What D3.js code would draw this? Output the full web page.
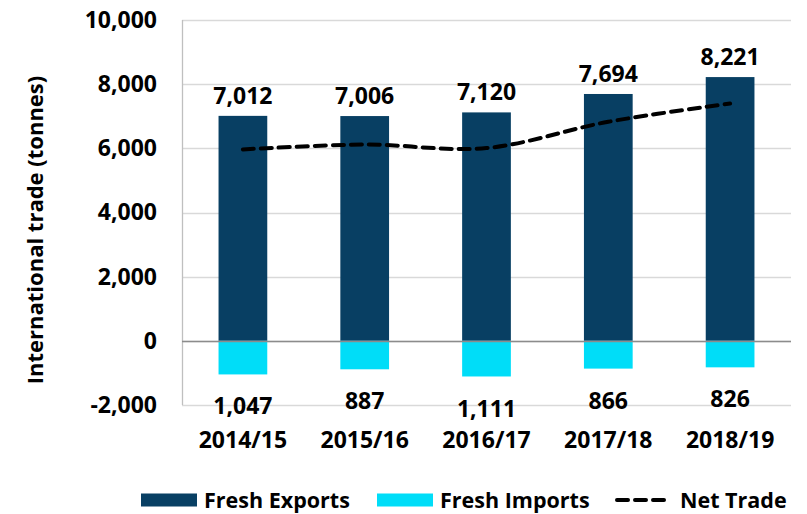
<!DOCTYPE html>
<html>
<head>
<meta charset="utf-8">
<script src="https://cdn.jsdelivr.net/npm/d3@7"></script>
<style>
  body { margin: 0; background: #fff; }
  text { font-family: "Open Sans", sans-serif; font-weight: bold; fill: #000; }
</style>
</head>
<body>
<div id="chart"></div>
<script>
// data
const years = ["2014/15", "2015/16", "2016/17", "2017/18", "2018/19"];
const exportsT = [7012, 7006, 7120, 7694, 8221];
const importsT = [1047, 887, 1111, 866, 826];
const netTrade = [5965, 6119, 6009, 6828, 7395];
const yTicks = [-2000, 0, 2000, 4000, 6000, 8000, 10000];

const W = 807, H = 514;
const margin = { top: 20, right: 16, bottom: 109, left: 182 },
    width = W - margin.left - margin.right,
    height = H - margin.top - margin.bottom;

// comma format with a plain hyphen for negatives
const fmt = d => d3.format(",")(d).replace("\u2212", "-");

const svg = d3.select("#chart")
    .append("svg")
    .attr("width", W)
    .attr("height", H);

const g = svg.append("g")
    .attr("transform", "translate(" + margin.left + "," + margin.top + ")");

const x = d3.scaleBand()
    .domain(years)
    .range([0, width])
    .paddingInner(0.6)
    .paddingOuter(0.3);

const y = d3.scaleLinear()
    .domain([-2000, 10000])
    .range([height, 0]);

// gridlines
g.append("g")
    .selectAll("line")
    .data(yTicks)
    .enter().append("line")
    .attr("x1", 0)
    .attr("x2", width)
    .attr("y1", d => Math.round(y(d)) + 0.5)
    .attr("y2", d => Math.round(y(d)) + 0.5)
    .style("stroke", "#d9d9d9")
    .style("stroke-width", 1.3);

// y axis labels
const yAxis = g.append("g")
    .call(d3.axisLeft(y).tickValues(yTicks).tickSize(0).tickPadding(25).tickFormat(fmt));
yAxis.select(".domain").remove();
yAxis.selectAll("text")
    .style("font-size", "23px")
    .style("font-family", "'Open Sans', sans-serif")
    .style("font-weight", "bold");

// left axis line
g.append("line")
    .attr("x1", 0.5).attr("x2", 0.5)
    .attr("y1", 0).attr("y2", height)
    .style("stroke", "#bfbfbf")
    .style("stroke-width", 1.3);

// exports bars
g.append("g")
    .selectAll("rect")
    .data(exportsT)
    .enter().append("rect")
    .attr("x", (d, i) => x(years[i]))
    .attr("width", x.bandwidth())
    .attr("y", d => y(d))
    .attr("height", d => y(0) - y(d))
    .style("fill", "#083f63");

// imports bars
g.append("g")
    .selectAll("rect")
    .data(importsT)
    .enter().append("rect")
    .attr("x", (d, i) => x(years[i]))
    .attr("width", x.bandwidth())
    .attr("y", y(0))
    .attr("height", d => y(-d) - y(0))
    .style("fill", "#00ddf8");

// zero line
g.append("line")
    .attr("x1", 0).attr("x2", width)
    .attr("y1", Math.round(y(0)) + 0.5)
    .attr("y2", Math.round(y(0)) + 0.5)
    .style("stroke", "#8c8c8c")
    .style("stroke-width", 1.5);

// net trade line
const line = d3.line()
    .x((d, i) => x(years[i]) + x.bandwidth() / 2)
    .y(d => y(d))
    .curve(d3.curveCatmullRom.alpha(0.5));

g.append("path")
    .datum(netTrade)
    .attr("d", line)
    .style("fill", "none")
    .style("stroke", "#000")
    .style("stroke-width", 4)
    .style("stroke-dasharray", "11,7")
    .style("stroke-linecap", "round");

// export labels
g.append("g")
    .selectAll("text")
    .data(exportsT)
    .enter().append("text")
    .attr("x", (d, i) => x(years[i]) + x.bandwidth() / 2)
    .attr("y", d => y(d) - 12)
    .attr("text-anchor", "middle")
    .style("font-size", "23px")
    .text(fmt);

// import labels
g.append("g")
    .selectAll("text")
    .data(importsT)
    .enter().append("text")
    .attr("x", (d, i) => x(years[i]) + x.bandwidth() / 2)
    .attr("y", d => y(-d) + 32)
    .attr("dy", "0.35em")
    .attr("text-anchor", "middle")
    .style("font-size", "23px")
    .text(fmt);

// category labels
g.append("g")
    .selectAll("text")
    .data(years)
    .enter().append("text")
    .attr("x", d => x(d) + x.bandwidth() / 2)
    .attr("y", height + 35)
    .attr("dy", "0.35em")
    .attr("text-anchor", "middle")
    .style("font-size", "23px")
    .text(d => d);

// y axis title
svg.append("text")
    .attr("transform", "translate(35,230) rotate(-90)")
    .attr("text-anchor", "middle")
    .attr("dy", "0.35em")
    .style("font-size", "22px")
    .text("International trade (tonnes)");

// legend
const legendY = 500;
const legend = svg.append("g");
const items = [
    { name: "Fresh Exports", color: "#083f63", type: "rect", x: 141 },
    { name: "Fresh Imports", color: "#00ddf8", type: "rect", x: 377 },
    { name: "Net Trade", color: "#000", type: "line", x: 615 }
];
items.forEach(it => {
    if (it.type === "rect") {
        legend.append("rect")
            .attr("x", it.x).attr("y", legendY - 6.5)
            .attr("width", 56).attr("height", 13)
            .style("fill", it.color);
    } else {
        legend.append("line")
            .attr("x1", it.x + 2).attr("x2", it.x + 52)
            .attr("y1", legendY).attr("y2", legendY)
            .style("stroke", it.color)
            .style("stroke-width", 4)
            .style("stroke-dasharray", "11,7")
            .style("stroke-linecap", "round");
    }
    legend.append("text")
        .attr("x", it.type === "rect" ? it.x + 63 : it.x + 65)
        .attr("y", legendY)
        .attr("dy", "0.35em")
        .style("font-size", "21.5px")
        .text(it.name);
});
</script>
</body>
</html>
